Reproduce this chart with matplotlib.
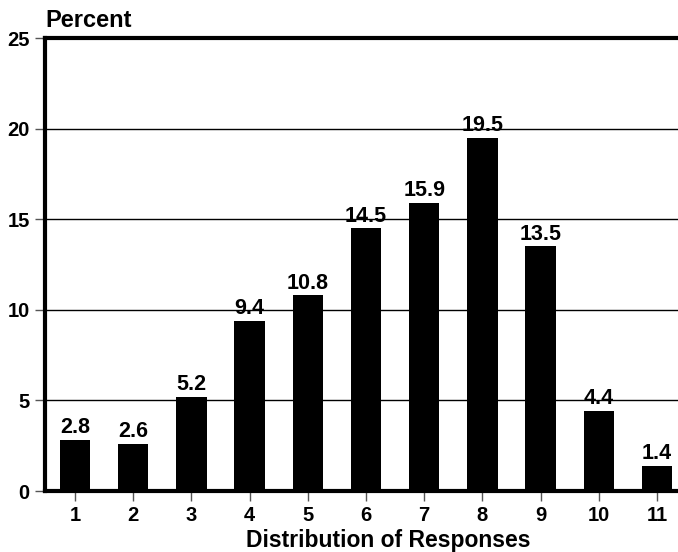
import matplotlib
matplotlib.use("Agg")
import matplotlib.pyplot as plt

categories = [1, 2, 3, 4, 5, 6, 7, 8, 9, 10, 11]
values = [2.8, 2.6, 5.2, 9.4, 10.8, 14.5, 15.9, 19.5, 13.5, 4.4, 1.4]
yticks = [0, 5, 10, 15, 20, 25]

plt.rcParams['font.family'] = ['Liberation Sans', 'DejaVu Sans']
plt.rcParams['font.weight'] = 'bold'

fig = plt.figure(figsize=(6.78, 5.52), dpi=100)
ax = fig.add_axes([0.0664, 0.1105, 686 / 678, 0.8205])

for y in yticks[1:-1]:
    ax.axhline(y, color='black', lw=1.0, zorder=1)
ax.bar(categories, values, width=0.52, color='black', zorder=2)
for c, v in zip(categories, values):
    ax.text(c, v + 0.1, f"{v:.1f}", ha='center', va='bottom', fontsize=15.5,
            fontweight='bold', zorder=3)

ax.set_xlim(0.4845, 0.4845 + 686 / 58.2)
ax.set_ylim(0, 25)
ax.set_yticks(yticks)
ax.set_xticks(categories)
ax.tick_params(axis='both', labelsize=14.5, length=7, width=1, color='#555555', pad=4)
for lab in ax.get_xticklabels() + ax.get_yticklabels():
    lab.set_fontweight('bold')
for s in ['left', 'bottom', 'top', 'right']:
    ax.spines[s].set_linewidth(3)
ax.set_xlabel('Distribution of Responses', fontsize=16.5, fontweight='bold', labelpad=3)
fig.text(0.0664, 0.942, 'Percent', fontsize=17, fontweight='bold', ha='left', va='bottom')

fig.savefig('out.png', dpi=100)
